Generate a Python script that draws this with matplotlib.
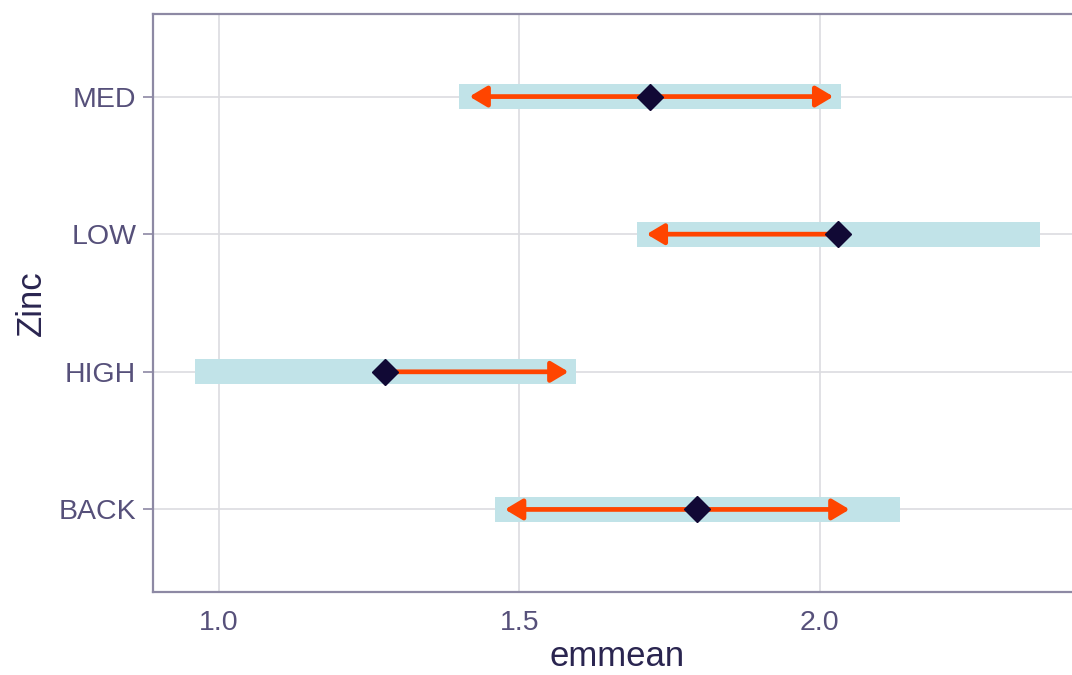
import numpy as np
import matplotlib
matplotlib.use("Agg")
import matplotlib.pyplot as plt

plt.rcParams['font.family'] = ['Liberation Sans', 'DejaVu Sans']

# ---- data ----
levels = ["BACK", "HIGH", "LOW", "MED"]
emmean = [1.796, 1.276, 2.031, 1.718]
lower_cl = [1.460, 0.960, 1.696, 1.400]
upper_cl = [2.134, 1.594, 2.367, 2.036]
arrow_left = [1.476, None, 1.712, 1.417]
arrow_right = [2.050, 1.582, None, 2.023]
x_ticks = [1.0, 1.5, 2.0]
x_ticklabels = ["1.0", "1.5", "2.0"]

# ---- style ----
tick_col = "#56507a"
title_col = "#2a2550"
spine_col = "#8d89a4"
grid_col = "#dcdce0"
ci_col = "#c1e3e8"
arrow_col = "#ff4500"
point_col = "#110935"

fig = plt.figure(figsize=(10.72, 6.75), dpi=100)
ax = fig.add_axes([153/1072, 83/675, (1082-153)/1072, (592-14)/675])

y = np.arange(1, len(levels) + 1)

ax.barh(y, np.array(upper_cl) - np.array(lower_cl), left=lower_cl, height=0.18,
        color=ci_col, zorder=2, linewidth=0)

for yi, m, lo, hi in zip(y, emmean, arrow_left, arrow_right):
    for tip in (lo, hi):
        if tip is None:
            continue
        ax.annotate("", xy=(tip, yi), xytext=(m, yi),
                    arrowprops=dict(arrowstyle="-|>,head_length=0.52,head_width=0.31",
                                    mutation_scale=20, color=arrow_col, lw=3.4,
                                    shrinkA=0, shrinkB=0, joinstyle="round"),
                    zorder=3)

ax.plot(emmean, y, linestyle="none", marker="D", markersize=13.5,
        color=point_col, zorder=4)

ax.set_xlim(0.89, 2.437)
ax.set_ylim(0.4, 4.6)
ax.set_xticks(x_ticks)
ax.set_xticklabels(x_ticklabels)
ax.set_yticks(y)
ax.set_yticklabels(levels)

ax.grid(True, color=grid_col, linewidth=1.2, zorder=0)
ax.set_axisbelow(True)

for s in ax.spines.values():
    s.set_color(spine_col)
    s.set_linewidth(1.6)

ax.tick_params(axis="x", length=0, pad=13, labelsize=20.5, labelcolor=tick_col)
ax.tick_params(axis="y", length=7, width=1.2, color=spine_col, pad=5,
               labelsize=20.5, labelcolor=tick_col)

ax.set_xlabel("emmean", fontsize=25, color=title_col, labelpad=3)
ax.set_ylabel("Zinc", fontsize=25, color=title_col, labelpad=8)

fig.savefig("out.png", dpi=100)
